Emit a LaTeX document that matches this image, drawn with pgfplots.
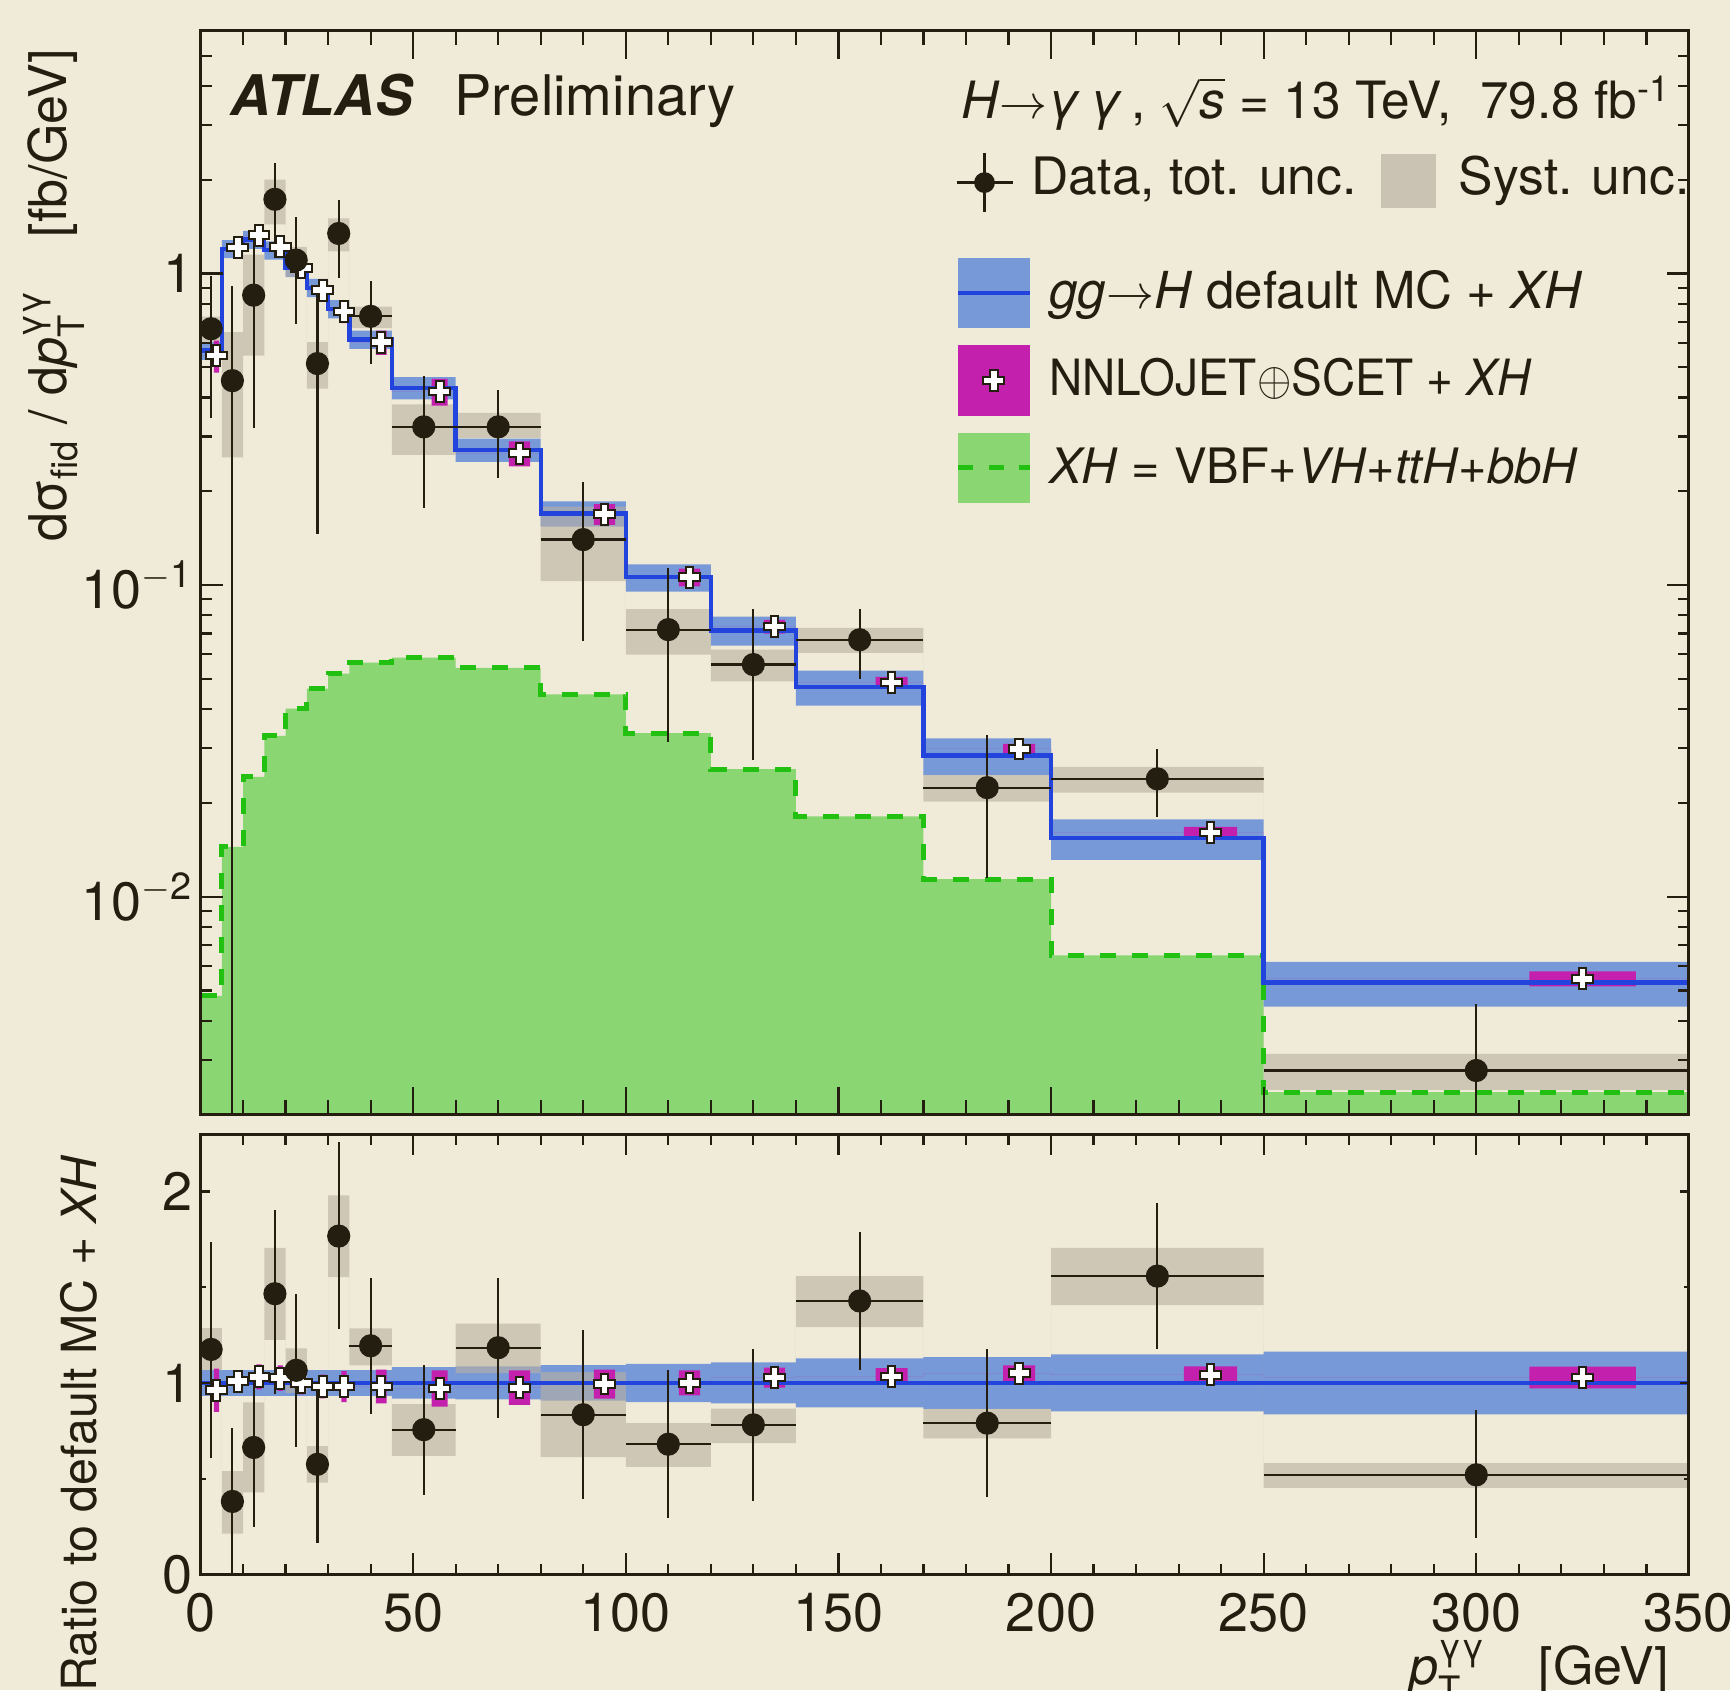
\documentclass[border=0pt]{standalone}
\usepackage{fontspec}
\setmainfont{TeX Gyre Heros}
\usepackage{amsmath}
\usepackage{graphicx}
\usepackage{pgfplots}
\usepackage{pgfplotstable}
\usepgfplotslibrary{fillbetween}
\pgfplotsset{compat=1.18}

\definecolor{bgc}{RGB}{240,234,217}
\definecolor{ink}{RGB}{35,30,16}
\definecolor{bandc}{RGB}{119,153,216}
\definecolor{linec}{RGB}{34,68,221}
\definecolor{systc}{RGB}{186,177,160}
\definecolor{systleg}{RGB}{202,194,178}
\definecolor{magc}{RGB}{196,32,174}
\definecolor{xhfill}{RGB}{137,214,115}
\definecolor{xhline}{RGB}{34,192,16}
\pagecolor{bgc}

% white cross with dark outline
\pgfdeclareplotmark{wplus}{%
  \pgfpathmoveto{\pgfqpoint{-.37\pgfplotmarksize}{\pgfplotmarksize}}%
  \pgfpathlineto{\pgfqpoint{.37\pgfplotmarksize}{\pgfplotmarksize}}%
  \pgfpathlineto{\pgfqpoint{.37\pgfplotmarksize}{.37\pgfplotmarksize}}%
  \pgfpathlineto{\pgfqpoint{\pgfplotmarksize}{.37\pgfplotmarksize}}%
  \pgfpathlineto{\pgfqpoint{\pgfplotmarksize}{-.37\pgfplotmarksize}}%
  \pgfpathlineto{\pgfqpoint{.37\pgfplotmarksize}{-.37\pgfplotmarksize}}%
  \pgfpathlineto{\pgfqpoint{.37\pgfplotmarksize}{-\pgfplotmarksize}}%
  \pgfpathlineto{\pgfqpoint{-.37\pgfplotmarksize}{-\pgfplotmarksize}}%
  \pgfpathlineto{\pgfqpoint{-.37\pgfplotmarksize}{-.37\pgfplotmarksize}}%
  \pgfpathlineto{\pgfqpoint{-\pgfplotmarksize}{-.37\pgfplotmarksize}}%
  \pgfpathlineto{\pgfqpoint{-\pgfplotmarksize}{.37\pgfplotmarksize}}%
  \pgfpathlineto{\pgfqpoint{-.37\pgfplotmarksize}{.37\pgfplotmarksize}}%
  \pgfpathclose
  \pgfusepathqfillstroke}

\pgfplotsset{
  atl/.style={
    scale only axis, width=372.1pt, axis on top,
    xmin=0, xmax=350, xtick={0,50,...,350}, minor x tick num=4,
    axis line style={ink, line width=0.75pt},
    every tick/.append style={ink, line width=0.55pt},
    tick label style={ink, font=\fontsize{13.5}{15}\selectfont},
    xticklabel style={inner sep=0pt, yshift=-4.5pt},
    label style={ink, inner sep=0pt, font=\fontsize{13}{15}\selectfont},
    /pgf/number format/assume math mode=true,
  },
  databars/.style={only marks, mark=*, mark size=2.7pt, ink,
    error bars/.cd, x dir=both, x explicit, y dir=both, y explicit,
    error mark=none, error bar style={ink, line width=0.55pt}},
}

% bin low edges, gg->H default MC + XH, relative band half-width
\pgfplotstableread{
x y d
0 0.566 0.067
5 1.20 0.067
10 1.285 0.067
15 1.188 0.067
20 1.043 0.067
25 0.90 0.067
30 0.77 0.067
35 0.614 0.067
45 0.430 0.082
60 0.272 0.086
80 0.170 0.093
100 0.106 0.10
120 0.0716 0.107
140 0.0471 0.128
170 0.0284 0.135
200 0.01543 0.149
250 0.00531 0.164
350 0.00531 0.164
}\mctab

% XH = VBF+VH+ttH+bbH
\pgfplotstableread{
x y
0 0.00481
5 0.01446
10 0.02427
15 0.03284
20 0.04018
25 0.04659
30 0.0520
35 0.05642
45 0.05856
60 0.05426
80 0.04464
100 0.03350
120 0.0257
140 0.01811
170 0.0114
200 0.00648
250 0.00236
350 0.00236
}\xhtab

% NNLOJET+SCET + XH: marker position, value, ratio, ratio half-height
\pgfplotstableread{
x y r d
3.75 0.545 0.962 0.113
8.75 1.211 1.009 0.058
13.75 1.326 1.032 0.065
18.75 1.218 1.025 0.067
23.75 1.043 1.0 0.06
28.75 0.883 0.981 0.062
33.75 0.755 0.981 0.081
42.5 0.602 0.981 0.088
56.25 0.418 0.971 0.095
75 0.265 0.975 0.09
95 0.169 0.994 0.076
115 0.106 1.0 0.065
135 0.0736 1.028 0.052
162.5 0.0487 1.034 0.043
192.5 0.0298 1.051 0.041
237.5 0.01608 1.042 0.045
325 0.00546 1.028 0.057
}\nntab

% NNLOJET+SCET boxes as steps: f=1 inside the box, f=0 outside
\pgfplotstableread{
x y r d f
0 0.545 0.962 0.113 0
3.125 0.545 0.962 0.113 1
4.375 0.545 0.962 0.113 0
5 1.211 1.009 0.058 0
8.125 1.211 1.009 0.058 1
9.375 1.211 1.009 0.058 0
10 1.326 1.032 0.065 0
13.125 1.326 1.032 0.065 1
14.375 1.326 1.032 0.065 0
15 1.218 1.025 0.067 0
18.125 1.218 1.025 0.067 1
19.375 1.218 1.025 0.067 0
20 1.043 1.0 0.06 0
23.125 1.043 1.0 0.06 1
24.375 1.043 1.0 0.06 0
25 0.883 0.981 0.062 0
28.125 0.883 0.981 0.062 1
29.375 0.883 0.981 0.062 0
30 0.755 0.981 0.081 0
33.125 0.755 0.981 0.081 1
34.375 0.755 0.981 0.081 0
35 0.602 0.981 0.088 0
41.25 0.602 0.981 0.088 1
43.75 0.602 0.981 0.088 0
45 0.418 0.971 0.095 0
54.375 0.418 0.971 0.095 1
58.125 0.418 0.971 0.095 0
60 0.265 0.975 0.09 0
72.5 0.265 0.975 0.09 1
77.5 0.265 0.975 0.09 0
80 0.169 0.994 0.076 0
92.5 0.169 0.994 0.076 1
97.5 0.169 0.994 0.076 0
100 0.106 1.0 0.065 0
112.5 0.106 1.0 0.065 1
117.5 0.106 1.0 0.065 0
120 0.0736 1.028 0.052 0
132.5 0.0736 1.028 0.052 1
137.5 0.0736 1.028 0.052 0
140 0.0487 1.034 0.043 0
158.75 0.0487 1.034 0.043 1
166.25 0.0487 1.034 0.043 0
170 0.0298 1.051 0.041 0
188.75 0.0298 1.051 0.041 1
196.25 0.0298 1.051 0.041 0
200 0.01608 1.042 0.045 0
231.25 0.01608 1.042 0.045 1
243.75 0.01608 1.042 0.045 0
250 0.00546 1.028 0.057 0
312.5 0.00546 1.028 0.057 1
337.5 0.00546 1.028 0.057 0
350 0.00546 1.028 0.057 0
}\nnbox

% data, total uncertainty
\pgfplotstableread{
x ex y hi lo
2.5 2.5 0.665 0.98 0.344
7.5 2.5 0.453 0.915 0.0005
12.5 2.5 0.852 1.374 0.319
17.5 2.5 1.73 2.255 1.12
22.5 2.5 1.104 1.52 0.69
27.5 2.5 0.514 0.882 0.146
32.5 2.5 1.344 1.72 0.969
40 5 0.729 0.945 0.514
52.5 7.5 0.322 0.468 0.177
70 10 0.322 0.422 0.221
90 10 0.14 0.2135 0.0663
110 10 0.072 0.1133 0.0313
130 10 0.0556 0.0838 0.0275
155 15 0.0668 0.084 0.0501
185 15 0.0224 0.0331 0.0115
225 25 0.0239 0.0298 0.018
300 50 0.00277 0.00453 0.00101
}\datatab

% data, systematic uncertainty (bin low edges)
\pgfplotstableread{
x hi lo
0 0.727 0.604
5 0.648 0.257
10 1.15 0.545
15 2.0 1.437
20 1.218 0.976
25 0.602 0.427
30 1.502 1.177
35 0.783 0.668
45 0.38 0.262
60 0.357 0.297
80 0.1786 0.103
100 0.0838 0.0598
120 0.0621 0.0491
140 0.0729 0.0606
170 0.0246 0.0202
200 0.0261 0.0216
250 0.00313 0.0024
350 0.00313 0.0024
}\systtab

% ratio panel
\pgfplotstableread{
x ex y hi lo
2.5 2.5 1.175 1.737 0.61
7.5 2.5 0.381 0.765 -0.1
12.5 2.5 0.663 1.025 0.248
17.5 2.5 1.466 1.904 0.943
22.5 2.5 1.066 1.466 0.666
27.5 2.5 0.575 0.971 0.162
32.5 2.5 1.767 2.257 1.28
40 5 1.194 1.548 0.838
52.5 7.5 0.756 1.092 0.413
70 10 1.184 1.548 0.815
90 10 0.834 1.276 0.395
110 10 0.68 1.066 0.295
130 10 0.781 1.175 0.381
155 15 1.428 1.786 1.067
185 15 0.79 1.175 0.405
225 25 1.558 1.939 1.177
300 50 0.52 0.857 0.19
}\rdatatab

\pgfplotstableread{
x hi lo
0 1.286 1.067
5 0.539 0.213
10 0.899 0.428
15 1.705 1.225
20 1.18 0.948
25 0.67 0.48
30 1.98 1.552
35 1.285 1.092
45 0.889 0.619
60 1.31 1.051
80 1.057 0.613
100 0.79 0.562
120 0.866 0.686
140 1.558 1.291
170 0.864 0.71
200 1.705 1.406
250 0.581 0.4515
350 0.581 0.4515
}\rsysttab

\begin{document}
\begin{tikzpicture}

% ---------------- main panel ----------------
\begin{axis}[atl,
  at={(0,0)}, anchor=north west, height=270.9pt,
  ymode=log, ymin=0.002, ymax=6,
  ytick={0.01,0.1,1},
  yticklabels={10\textsuperscript{$-$2},10\textsuperscript{$-$1},1},
  yticklabel style={inner sep=0pt, xshift=-1.6pt},
  minor ytick={0.002,0.003,0.004,0.005,0.006,0.007,0.008,0.009,
               0.02,0.03,0.04,0.05,0.06,0.07,0.08,0.09,
               0.2,0.3,0.4,0.5,0.6,0.7,0.8,0.9,2,3,4,5},
  xticklabels={},
  every major x tick/.append style={/pgfplots/major tick length=7pt},
  every minor x tick/.append style={/pgfplots/minor tick length=3.6pt},
  every major y tick/.append style={/pgfplots/major tick length=5.6pt},
  every minor y tick/.append style={/pgfplots/minor tick length=2.8pt},
  ylabel={d$\text{σ}_{\text{fid}}$ / d$\text{\textit{p}}^{\text{γγ}}_{\text{T}}$\quad[fb/GeV]},
  ylabel style={at={(axis description cs:-0.0897,0.984)}, anchor=base east},
]
% XH
\addplot[name path=xh, const plot, draw=none, forget plot] table[x=x,y=y]{\xhtab};
\addplot[name path=xhb, draw=none, forget plot] coordinates {(0,0.001) (350,0.001)};
\addplot[fill=xhfill, draw=none, forget plot] fill between[of=xh and xhb];
\addplot[const plot, xhline, line width=1.25pt, dash pattern=on 4pt off 4pt, forget plot] table[x=x,y=y]{\xhtab};
% default MC band and line
\addplot[name path=bup, const plot, draw=none, forget plot] table[x=x, y expr=\thisrow{y}*(1+\thisrow{d})]{\mctab};
\addplot[name path=blo, const plot, draw=none, forget plot] table[x=x, y expr=\thisrow{y}*(1-\thisrow{d})]{\mctab};
\addplot[fill=bandc, draw=none, forget plot] fill between[of=bup and blo];
\addplot[const plot, linec, line width=1.1pt, forget plot] table[x=x,y=y]{\mctab};
% systematic boxes
\addplot[name path=sup, const plot, draw=none, forget plot] table[x=x,y=hi]{\systtab};
\addplot[name path=slo, const plot, draw=none, forget plot] table[x=x,y=lo]{\systtab};
\addplot[fill=systc, fill opacity=0.6, draw=none, forget plot] fill between[of=sup and slo];
% NNLOJET+SCET boxes and markers
\addplot[name path=nup, const plot, draw=none, forget plot] table[x=x, y expr=\thisrow{y}*(1+\thisrow{f}*\thisrow{d}/\thisrow{r})]{\nnbox};
\addplot[name path=nlo, const plot, draw=none, forget plot] table[x=x, y expr=\thisrow{y}*(1-\thisrow{f}*\thisrow{d}/\thisrow{r})]{\nnbox};
\addplot[fill=magc, draw=none, forget plot] fill between[of=nup and nlo];
\addplot[only marks, mark=wplus, mark size=2.6pt,
  mark options={fill=white, draw=ink, line width=0.5pt}, forget plot]
  table[x=x,y=y]{\nntab};
% data
\addplot[databars] table[x=x, y=y, x error=ex,
  y error plus expr=\thisrow{hi}-\thisrow{y},
  y error minus expr=\thisrow{y}-\thisrow{lo}]{\datatab};
\end{axis}

% ---------------- ratio panel ----------------
\begin{axis}[atl,
  at={(0,-275.75pt)}, anchor=north west, height=110.1pt,
  ymin=0, ymax=2.3, ytick={0,1,2}, minor ytick={0.5,1.5},
  yticklabel style={inner sep=0pt, xshift=-1.7pt},
  every major x tick/.append style={/pgfplots/major tick length=5.3pt},
  every minor x tick/.append style={/pgfplots/minor tick length=2.7pt},
  every major y tick/.append style={/pgfplots/major tick length=2.3pt},
  every minor y tick/.append style={/pgfplots/minor tick length=1.3pt},
  xlabel={$\text{\textit{p}}^{\text{γγ}}_{\text{T}}$\quad[GeV]},
  xlabel style={at={(axis description cs:0.9872,0)}, anchor=base east, yshift=-27.6pt},
  ylabel={Ratio to default MC + \textit{XH}},
  ylabel style={at={(axis description cs:-0.0702,0.9535)}, anchor=base east,
    font=\fontsize{12.1}{14}\selectfont},
]
\addplot[name path=rbup, const plot, draw=none, forget plot] table[x=x, y expr=1+\thisrow{d}]{\mctab};
\addplot[name path=rblo, const plot, draw=none, forget plot] table[x=x, y expr=1-\thisrow{d}]{\mctab};
\addplot[fill=bandc, draw=none, forget plot] fill between[of=rbup and rblo];
\addplot[const plot, linec, line width=1.1pt, forget plot] table[x=x, y expr=1]{\mctab};
\addplot[name path=rsup, const plot, draw=none, forget plot] table[x=x,y=hi]{\rsysttab};
\addplot[name path=rslo, const plot, draw=none, forget plot] table[x=x,y=lo]{\rsysttab};
\addplot[fill=systc, fill opacity=0.6, draw=none, forget plot] fill between[of=rsup and rslo];
\addplot[name path=rnup, const plot, draw=none, forget plot] table[x=x, y expr=\thisrow{r}+\thisrow{f}*\thisrow{d}]{\nnbox};
\addplot[name path=rnlo, const plot, draw=none, forget plot] table[x=x, y expr=\thisrow{r}-\thisrow{f}*\thisrow{d}]{\nnbox};
\addplot[fill=magc, draw=none, forget plot] fill between[of=rnup and rnlo];
\addplot[only marks, mark=wplus, mark size=2.6pt,
  mark options={fill=white, draw=ink, line width=0.5pt}, forget plot]
  table[x=x,y=r]{\nntab};
\addplot[databars] table[x=x, y=y, x error=ex,
  y error plus expr=\thisrow{hi}-\thisrow{y},
  y error minus expr=\thisrow{y}-\thisrow{lo}]{\rdatatab};
\end{axis}

% ---------------- texts and legend ----------------
\begin{scope}[every node/.style={inner sep=0pt, anchor=base west, text=ink}]
\node[font=\fontsize{14}{16}\selectfont\bfseries\itshape] at (7.4pt,-21.25pt) {ATLAS};
\node[font=\fontsize{14}{16}\selectfont] at (63.3pt,-21.25pt) {Preliminary};
\node[font=\fontsize{12.85}{16}\selectfont] at (190pt,-21.95pt)
  {\textit{H}$\rightarrow$\textit{γ\,γ}\,, $\sqrt{\text{\textit{s}}}$ = 13 TeV,\ \ 79.8 fb\textsuperscript{-1}};

\draw[ink, line width=0.55pt] (189.0pt,-37.9pt) -- (203.1pt,-37.9pt);
\draw[ink, line width=0.55pt] (196pt,-30.5pt) -- (196pt,-45.2pt);
\fill[ink] (196pt,-37.9pt) circle (2.6pt);
\node[font=\fontsize{12.9}{15}\selectfont] at (207.6pt,-40.9pt) {Data, tot. unc.};
\fill[systleg] (295.0pt,-30.8pt) rectangle (308.9pt,-44.3pt);
\node[font=\fontsize{12.9}{15}\selectfont] at (314.4pt,-40.9pt) {Syst. unc.};

\fill[bandc] (189.4pt,-56.8pt) rectangle (207.25pt,-74.2pt);
\draw[linec, line width=1.1pt] (189.4pt,-65.5pt) -- (207.25pt,-65.5pt);
\node[font=\fontsize{12.75}{15}\selectfont] at (212pt,-69.3pt)
  {\textit{gg}$\rightarrow$\textit{H} default MC + \textit{XH}};

\fill[magc] (189.4pt,-78.6pt) rectangle (207.25pt,-96.15pt);
\filldraw[fill=white, draw=ink, line width=0.5pt, shift={(198.3pt,-87.4pt)}]
  (-0.96pt,2.6pt) -- (0.96pt,2.6pt) -- (0.96pt,0.96pt) -- (2.6pt,0.96pt) --
  (2.6pt,-0.96pt) -- (0.96pt,-0.96pt) -- (0.96pt,-2.6pt) -- (-0.96pt,-2.6pt) --
  (-0.96pt,-0.96pt) -- (-2.6pt,-0.96pt) -- (-2.6pt,0.96pt) -- (-0.96pt,0.96pt) -- cycle;
\node[font=\fontsize{12.5}{15}\selectfont] at (212pt,-91.25pt)
  {\scalebox{0.92}[1]{NNLOJET${\oplus}$SCET + \textit{XH}}};

\fill[xhfill] (189.4pt,-100.55pt) rectangle (207.25pt,-117.95pt);
\draw[xhline, line width=1.25pt, dash pattern=on 3.8pt off 3.8pt] (189.4pt,-109.15pt) -- (207.25pt,-109.15pt);
\node[font=\fontsize{12.2}{15}\selectfont] at (212pt,-113.2pt)
  {\textit{XH} = VBF+\textit{VH}+\textit{ttH}+\textit{bbH}};
\end{scope}

\pgfresetboundingbox
\useasboundingbox (-50.125pt,7.75pt) rectangle (382.375pt,-414.75pt);
\end{tikzpicture}
\end{document}
